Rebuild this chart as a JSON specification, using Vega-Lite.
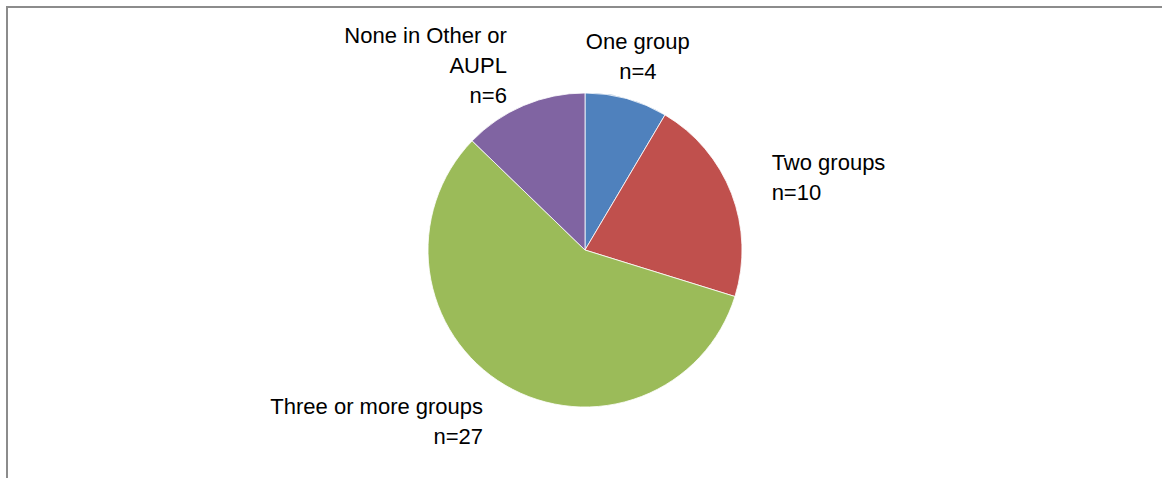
{
  "$schema": "https://vega.github.io/schema/vega-lite/v6.json",
  "width": 1156,
  "height": 486,
  "padding": {"left": 7, "top": 7, "right": 0, "bottom": 0},
  "autosize": {"type": "none"},
  "background": "white",
  "view": {"stroke": "#8c8c8c", "strokeWidth": 2},
  "data": {
    "values": [
      {"rank": 1, "group": "One group", "n": 4, "label": "One group\nn=4"},
      {"rank": 2, "group": "Two groups", "n": 10, "label": "Two groups\nn=10"},
      {"rank": 3, "group": "Three or more groups", "n": 27, "label": "Three or more groups\nn=27"},
      {"rank": 4, "group": "None in Other or AUPL", "n": 6, "label": "None in Other or\nAUPL\nn=6"}
    ]
  },
  "transform": [
    {"joinaggregate": [{"op": "sum", "field": "n", "as": "total"}]}
  ],
  "encoding": {
    "theta": {"field": "n", "type": "quantitative", "stack": true},
    "order": {"field": "rank", "type": "quantitative"}
  },
  "layer": [
    {
      "mark": {"type": "arc", "outerRadius": 157, "stroke": "white", "strokeWidth": 0.8},
      "encoding": {
        "color": {
          "field": "group",
          "type": "nominal",
          "scale": {
            "domain": ["One group", "Two groups", "Three or more groups", "None in Other or AUPL"],
            "range": ["#4F81BD", "#C0504D", "#9BBB59", "#8064A2"]
          },
          "legend": null
        }
      }
    },
    {
      "mark": {
        "type": "text",
        "radius": 200,
        "font": "Liberation Sans",
        "fontSize": 22,
        "lineBreak": "\n",
        "lineHeight": 30,
        "fill": "#000000",
        "baseline": "middle",
        "dy": {"expr": "-(length(split(datum.label, '\\n')) - 1) * 15"},
        "align": {"expr": "sin(PI * (datum.n_start + datum.n_end) / datum.total) > 0.3 ? 'left' : (sin(PI * (datum.n_start + datum.n_end) / datum.total) < -0.3 ? 'right' : 'center')"}
      },
      "encoding": {
        "detail": {"field": "group", "type": "nominal"},
        "text": {"field": "label", "type": "nominal"}
      }
    }
  ]
}
